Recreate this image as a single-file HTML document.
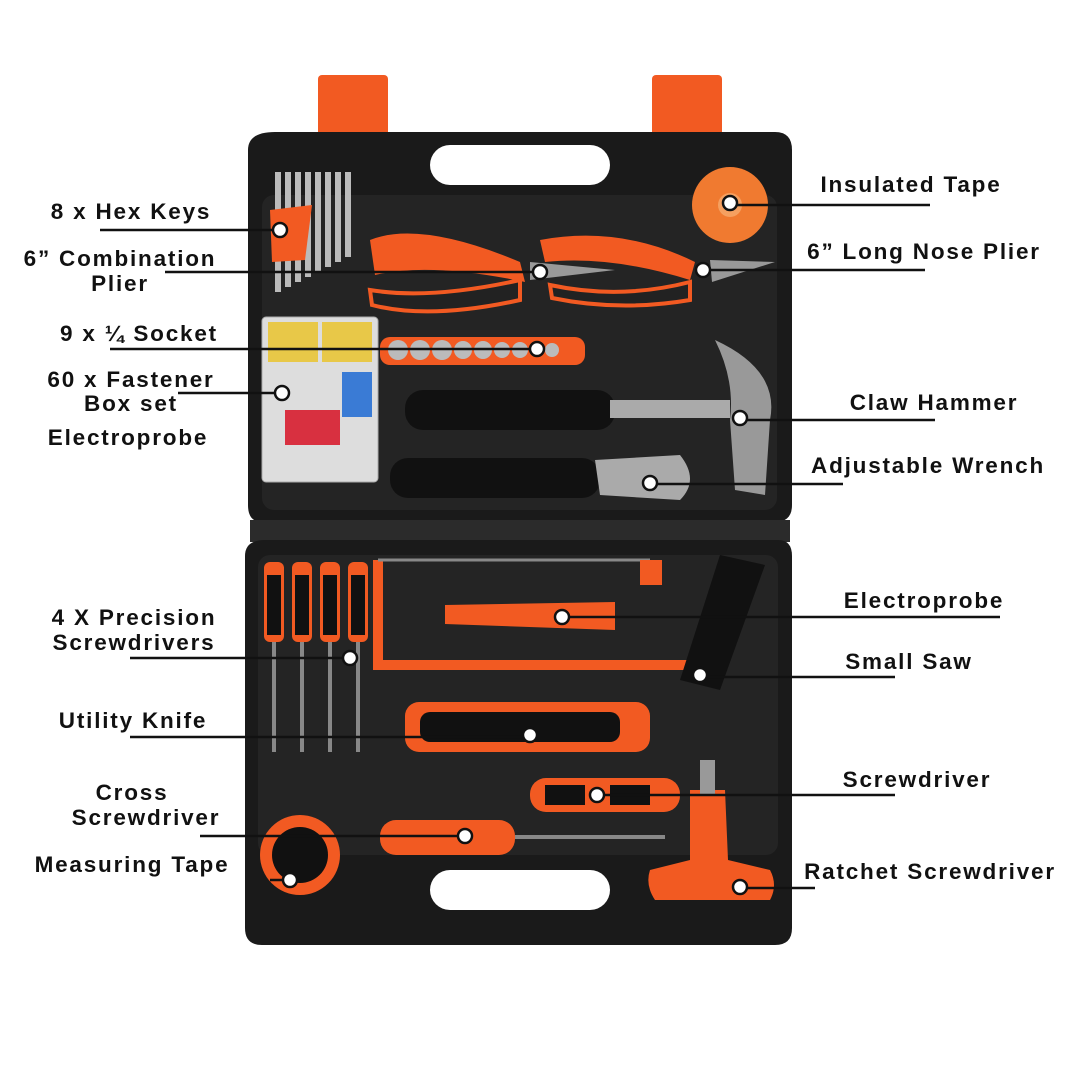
<!DOCTYPE html>
<html><head><meta charset="utf-8"><style>
html,body{margin:0;padding:0;background:#fff;}
svg{display:block}
text{font-family:"Liberation Sans",sans-serif;font-weight:bold;font-size:22.5px;letter-spacing:1.8px;fill:#111;}
</style></head><body>
<svg width="1080" height="1080" viewBox="0 0 1080 1080" xmlns="http://www.w3.org/2000/svg">
<rect width="1080" height="1080" fill="#fff"/>
<rect x="318" y="75" width="70" height="70" rx="4" fill="#f25a22"/>
<rect x="652" y="75" width="70" height="70" rx="4" fill="#f25a22"/>
<path d="M275 132 H775 Q792 132 792 150 V505 Q792 522 775 522 H262 Q248 522 248 505 V150 Q248 132 275 132Z" fill="#1a1a1a"/>
<rect x="430" y="145" width="180" height="40" rx="20" fill="#fff"/>
<rect x="262" y="195" width="515" height="315" rx="12" fill="#242424"/>
<rect x="250" y="520" width="540" height="22" fill="#2b2b2b"/>
<path d="M265 540 H778 Q792 540 792 556 V928 Q792 945 775 945 H262 Q245 945 245 928 V556 Q245 540 265 540Z" fill="#1a1a1a"/>
<rect x="430" y="870" width="180" height="40" rx="20" fill="#fff"/>
<rect x="258" y="555" width="520" height="300" rx="12" fill="#242424"/>
<g fill="#bbb"><rect x="275" y="172" width="6" height="120"/><rect x="285" y="172" width="6" height="115"/><rect x="295" y="172" width="6" height="110"/><rect x="305" y="172" width="6" height="105"/><rect x="315" y="172" width="6" height="100"/><rect x="325" y="172" width="6" height="95"/><rect x="335" y="172" width="6" height="90"/><rect x="345" y="172" width="6" height="85"/></g>
<path d="M270 210 L312 205 L305 260 L272 262Z" fill="#f25a22"/>
<circle cx="730" cy="205" r="38" fill="#f07a30"/><circle cx="730" cy="205" r="12" fill="#f5a060"/>
<path d="M370 240 Q420 220 520 262 L525 282 Q430 262 375 275Z" fill="#f25a22"/>
<path d="M370 290 Q430 300 520 280 L520 300 Q430 320 372 305Z" fill="#222" stroke="#f25a22" stroke-width="4"/>
<path d="M530 262 L615 270 L530 280Z" fill="#999"/>
<path d="M540 240 Q620 225 695 262 L690 280 Q610 255 545 262Z" fill="#f25a22"/>
<path d="M550 285 Q620 300 690 282 L690 300 Q620 312 552 298Z" fill="#222" stroke="#f25a22" stroke-width="4"/>
<path d="M710 260 L775 262 L712 282Z" fill="#999"/>
<rect x="262" y="317" width="116" height="165" rx="4" fill="#ddd" stroke="#aaa"/>
<rect x="268" y="322" width="50" height="40" fill="#e8c848"/><rect x="322" y="322" width="50" height="40" fill="#e8c848"/>
<rect x="342" y="372" width="30" height="45" fill="#3a7bd5"/><rect x="285" y="410" width="55" height="35" fill="#d83040"/>
<rect x="380" y="337" width="205" height="28" rx="10" fill="#f25a22"/>
<g fill="#bbb"><circle cx="398" cy="350" r="10"/><circle cx="420" cy="350" r="10"/><circle cx="442" cy="350" r="10"/><circle cx="463" cy="350" r="9"/><circle cx="483" cy="350" r="9"/><circle cx="502" cy="350" r="8"/><circle cx="520" cy="350" r="8"/><circle cx="537" cy="350" r="7"/><circle cx="552" cy="350" r="7"/></g>
<rect x="405" y="390" width="210" height="40" rx="18" fill="#111"/>
<rect x="610" y="400" width="120" height="18" fill="#aaa"/>
<path d="M715 340 Q780 370 770 420 L765 495 L735 490 L730 420 Q735 380 715 340Z" fill="#999"/>
<rect x="390" y="458" width="210" height="40" rx="18" fill="#111"/>
<path d="M595 460 L680 455 Q700 480 680 500 L600 495Z" fill="#aaa"/>
<path d="M378 560 V665 H700" fill="none" stroke="#f25a22" stroke-width="10"/>
<path d="M378 560 H650" fill="none" stroke="#888" stroke-width="3"/>
<rect x="640" y="560" width="22" height="25" fill="#f25a22"/>
<path d="M720 555 L765 565 L720 690 L680 680Z" fill="#111"/>
<path d="M445 605 L615 602 L615 630 L445 624Z" fill="#f25a22"/>
<g fill="#f25a22"><rect x="264" y="562" width="20" height="80" rx="6"/><rect x="292" y="562" width="20" height="80" rx="6"/><rect x="320" y="562" width="20" height="80" rx="6"/><rect x="348" y="562" width="20" height="80" rx="6"/></g>
<g fill="#111"><rect x="267" y="575" width="14" height="60"/><rect x="295" y="575" width="14" height="60"/><rect x="323" y="575" width="14" height="60"/><rect x="351" y="575" width="14" height="60"/></g>
<g fill="#888"><rect x="272" y="642" width="4" height="110"/><rect x="300" y="642" width="4" height="110"/><rect x="328" y="642" width="4" height="110"/><rect x="356" y="642" width="4" height="110"/></g>
<rect x="405" y="702" width="245" height="50" rx="14" fill="#f25a22"/>
<rect x="420" y="712" width="200" height="30" rx="10" fill="#111"/>
<rect x="530" y="778" width="150" height="34" rx="16" fill="#f25a22"/>
<rect x="545" y="785" width="40" height="20" fill="#111"/><rect x="610" y="785" width="40" height="20" fill="#111"/>
<rect x="380" y="820" width="135" height="35" rx="16" fill="#f25a22"/>
<rect x="515" y="835" width="150" height="4" fill="#888"/>
<path d="M690 790 L725 790 L728 860 L770 870 Q778 885 770 900 L655 900 Q645 885 650 870 L690 860Z" fill="#f25a22"/>
<rect x="700" y="760" width="15" height="35" fill="#999"/>
<circle cx="300" cy="855" r="40" fill="#f25a22"/><circle cx="300" cy="855" r="28" fill="#111"/>
<g stroke="#111" stroke-width="2.5" fill="none">
<line x1="100" y1="230" x2="280" y2="230"/>
<line x1="165" y1="272" x2="540" y2="272"/>
<line x1="110" y1="349" x2="537" y2="349"/>
<line x1="178" y1="393" x2="282" y2="393"/>
<line x1="730" y1="205" x2="930" y2="205"/>
<line x1="703" y1="270" x2="925" y2="270"/>
<line x1="740" y1="420" x2="935" y2="420"/>
<line x1="650" y1="484" x2="843" y2="484"/>
<line x1="130" y1="658" x2="350" y2="658"/>
<line x1="130" y1="737" x2="530" y2="737"/>
<line x1="200" y1="836" x2="465" y2="836"/>
<line x1="270" y1="880" x2="290" y2="880"/>
<line x1="562" y1="617" x2="1000" y2="617"/>
<line x1="700" y1="677" x2="895" y2="677"/>
<line x1="597" y1="795" x2="895" y2="795"/>
<line x1="740" y1="888" x2="815" y2="888"/>
</g>
<g fill="#fff" stroke="#111" stroke-width="2.5">
<circle cx="280" cy="230" r="7"/><circle cx="540" cy="272" r="7"/><circle cx="537" cy="349" r="7"/><circle cx="282" cy="393" r="7"/>
<circle cx="730" cy="203" r="7"/><circle cx="703" cy="270" r="7"/><circle cx="740" cy="418" r="7"/><circle cx="650" cy="483" r="7"/>
<circle cx="350" cy="658" r="7"/><circle cx="530" cy="735" r="7"/><circle cx="465" cy="836" r="7"/><circle cx="290" cy="880" r="7"/>
<circle cx="562" cy="617" r="7"/><circle cx="700" cy="675" r="7"/><circle cx="597" cy="795" r="7"/><circle cx="740" cy="887" r="7"/>
</g>
<g text-anchor="middle">
<text x="131" y="219">8 x Hex Keys</text>
<text x="120" y="266">6” Combination</text>
<text x="120" y="291">Plier</text>
<text x="139" y="341">9 x ¼ Socket</text>
<text x="131" y="387">60 x Fastener</text>
<text x="131" y="411">Box set</text>
<text x="128" y="445">Electroprobe</text>
<text x="911" y="192">Insulated Tape</text>
<text x="924" y="259">6” Long Nose Plier</text>
<text x="934" y="410">Claw Hammer</text>
<text x="928" y="473">Adjustable Wrench</text>
<text x="134" y="625">4 X Precision</text>
<text x="134" y="650">Screwdrivers</text>
<text x="133" y="728">Utility Knife</text>
<text x="132" y="800">Cross</text>
<text x="146" y="825">Screwdriver</text>
<text x="132" y="872">Measuring Tape</text>
<text x="924" y="608">Electroprobe</text>
<text x="909" y="669">Small Saw</text>
<text x="917" y="787">Screwdriver</text>
<text x="930" y="879">Ratchet Screwdriver</text>
</g>
</svg>
</body></html>
